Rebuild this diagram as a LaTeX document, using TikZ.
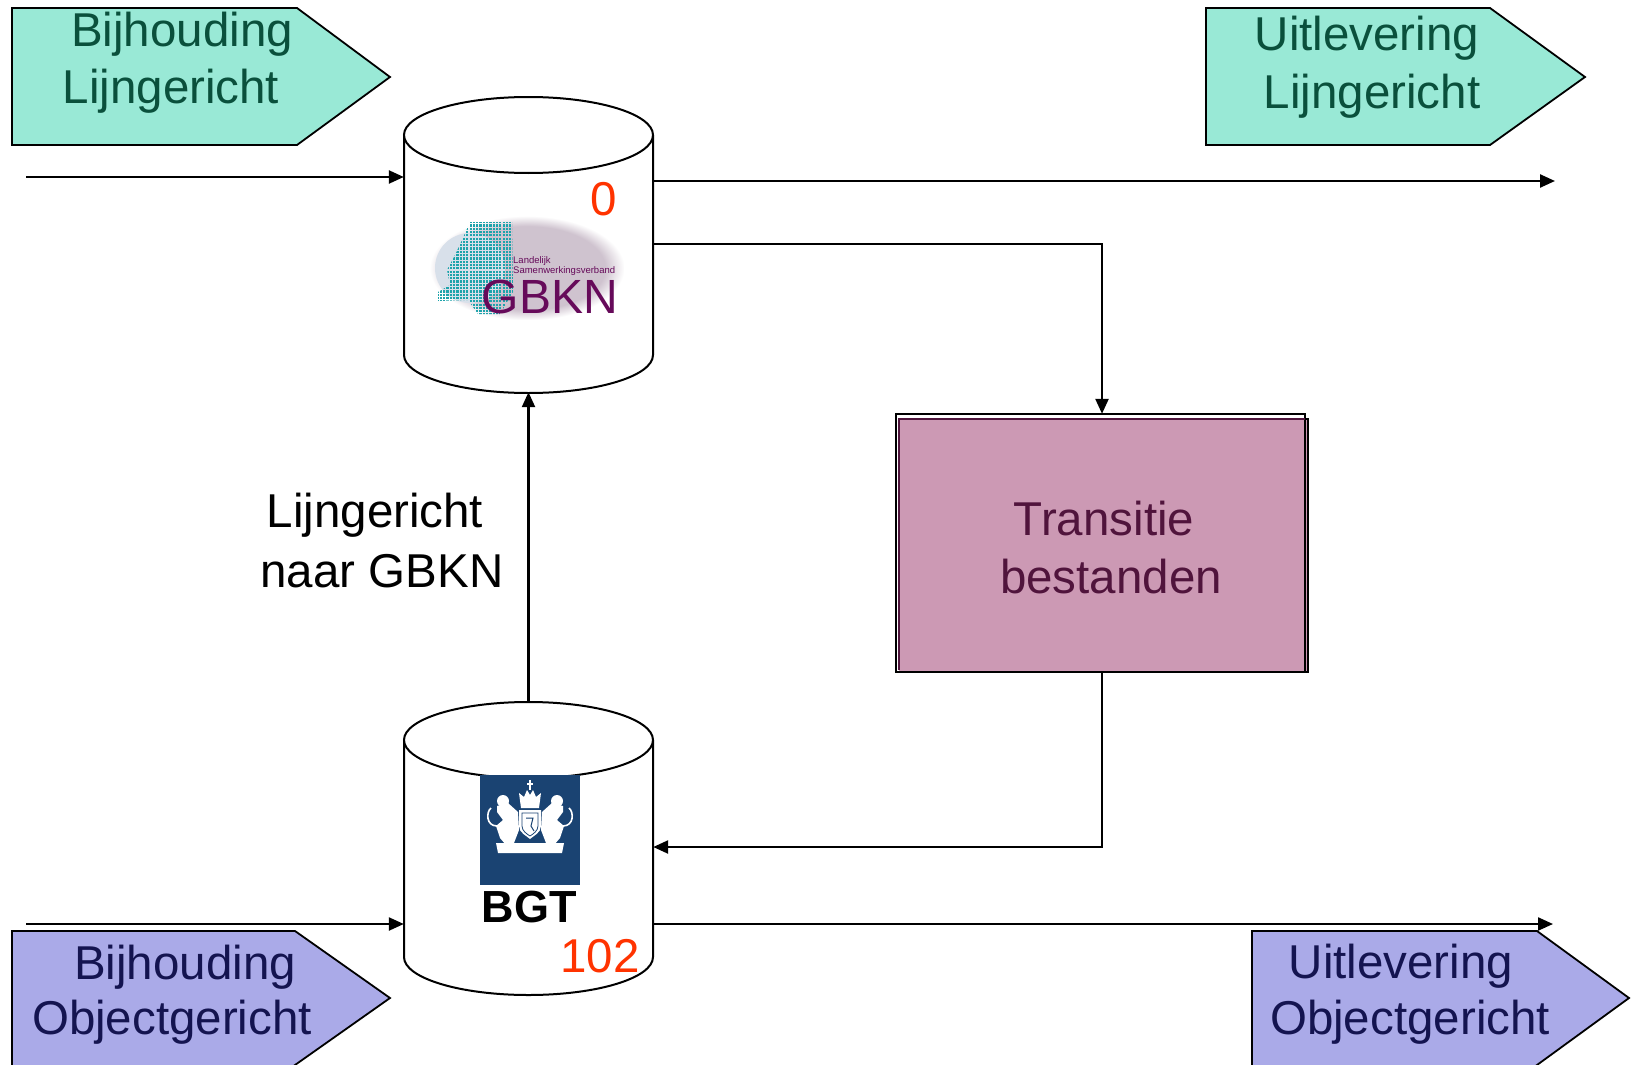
\documentclass[tikz,border=0pt]{standalone}
\usepackage{fontspec}
\setmainfont{Liberation Sans}
\usetikzlibrary{arrows.meta,fadings}
\definecolor{tealfill}{HTML}{99E9D6}
\definecolor{tealtext}{HTML}{0A503C}
\definecolor{lilacfill}{HTML}{AAAAE8}
\definecolor{navytext}{HTML}{141450}
\definecolor{numred}{HTML}{FF3300}
\definecolor{trfill}{HTML}{CC99B4}
\definecolor{trtext}{HTML}{50143C}
\definecolor{gbknpurple}{HTML}{660A5A}
\definecolor{mapteal}{HTML}{1EA3AB}
\definecolor{rijksblue}{HTML}{1A4372}
\definecolor{photogray}{HTML}{CFC3CF}
\definecolor{globe}{HTML}{D8E0EA}
\newcommand{\dbcyl}[3]{%
  \fill[white] ({#1-124.5},#2) -- ({#1-124.5},#3) .. controls ({#1-124.5},{#3+21}) and ({#1-68.8},{#3+38}) .. (#1,{#3+38}) .. controls ({#1+68.8},{#3+38}) and ({#1+124.5},{#3+21}) .. ({#1+124.5},#3) -- ({#1+124.5},#2) -- cycle;
  \draw[cylsty] ({#1-124.5},#2) -- ({#1-124.5},#3) .. controls ({#1-124.5},{#3+21}) and ({#1-68.8},{#3+38}) .. (#1,{#3+38}) .. controls ({#1+68.8},{#3+38}) and ({#1+124.5},{#3+21}) .. ({#1+124.5},#3) -- ({#1+124.5},#2);
  \filldraw[cylsty, fill=white] (#1,#2) ellipse [x radius=124.5, y radius=38];}
\begin{document}
\begin{tikzpicture}[x=1pt,y=-1pt,
  conn/.style={line width=2.4pt, -{Triangle[length=15pt,width=13pt]}},
  cylsty/.style={draw=black, line width=2pt},
  pent/.style={draw=black, line width=1.8pt},
  big/.style={font=\fontsize{47.5}{58}\selectfont, inner sep=0pt, anchor=base},
  hold/.style={draw=none, inner sep=0pt}]
\useasboundingbox (0,0) rectangle (1631,1065);

% ---------- signal shapes ----------
\filldraw[pent, fill=tealfill] (12,8) -- (297,8) -- (390,77) -- (297,145) -- (12,145) -- cycle;
\filldraw[pent, fill=tealfill] (1206,8) -- (1490,8) -- (1585,77) -- (1490,145) -- (1206,145) -- cycle;
\filldraw[pent, fill=lilacfill] (12,1072) -- (12,931) -- (295,931) -- (390,998) -- (295,1065) -- (285,1072);
\filldraw[pent, fill=lilacfill] (1252,1072) -- (1252,931) -- (1537,931) -- (1629,998) -- (1537,1065) -- (1527,1072);

\node[big, text=tealtext] (bl1) at (182,47) {Bijhouding};
\node[big, text=tealtext] (bl2) at (171,103) {Lijngericht};
\node[big, text=tealtext] (ul1) at (1367,51) {Uitlevering};
\node[big, text=tealtext] (ul2) at (1372,108) {Lijngericht};
\node[big, text=navytext] (bo1) at (185,979) {Bijhouding};
\node[big, text=navytext] (bo2) at (172,1034) {Objectgericht};
\node[big, text=navytext] (uo1) at (1401,978) {Uitlevering};
\node[big, text=navytext] (uo2) at (1410,1034) {Objectgericht};

% ---------- cylinders ----------
\node[hold, minimum width=249pt, minimum height=295pt] (gbkn) at (528.5,244.5) {};
\node[hold, minimum width=249pt, minimum height=293pt] (bgt) at (528.5,848.5) {};
\dbcyl{528.5}{135}{355}
\dbcyl{528.5}{740}{957}

% GBKN logo
\fill[photogray, path fading=circle with fuzzy edge 20 percent] (430,216) rectangle (624,320);
\fill[globe] (470,268) circle (35);
\begin{scope}
  \clip (470,222) -- (512,222) -- (513,292) -- (500,314) -- (478,314) -- (468,300) -- (438,301) -- (438,292) -- (450,285) -- (447,270) -- (455,255) -- (462,240) -- cycle;
  \foreach \i in {0,...,24} {
    \foreach \j in {0,...,28} {
      \fill[mapteal] ({436.5+3.3*\i},{221+3.3*\j}) rectangle ++(2.2,2.2);
    }
  }
\end{scope}
\node[inner sep=0pt, anchor=base west, text=gbknpurple, font=\fontsize{9.5}{10}\selectfont] (gl1) at (513,263) {Landelijk};
\node[inner sep=0pt, anchor=base west, text=gbknpurple, font=\fontsize{9.5}{10}\selectfont] (gl2) at (513,273) {Samenwerkingsverband};
\node[inner sep=0pt, anchor=base, text=gbknpurple, font=\fontsize{48}{50}\selectfont] (glogo) at (550,313) {GBKN};
\node[big, text=numred] (n0) at (604,215) {0};

% BGT logo
\fill[rijksblue] (480,775) rectangle (580,885);
\begin{scope}[white]
  % crown and cross
  \fill (521,808) -- (519,793) -- (524,797) -- (527,790) -- (530,795) -- (533,790) -- (536,797) -- (541,793) -- (539,808) -- cycle;
  \fill (529,780) rectangle (531,790);
  \fill (527,783) rectangle (533,785);
  % shield
  \fill (519,810) -- (541,810) -- (541,826) .. controls (541,833) and (533,836) .. (530,839) .. controls (527,836) and (519,833) .. (519,826) -- cycle;
  % left lion
  \fill (503,801) circle (6);
  \fill (497,806) -- (508,803) -- (518,812) -- (519,830) -- (514,843) -- (506,845) -- (500,838) -- (496,826) -- (503,820) -- (497,812) -- cycle;
  \draw[line width=1.6pt] (497,826) .. controls (486,826) and (486,812) .. (491,808);
  % right lion
  \fill (557,801) circle (6);
  \fill (563,806) -- (552,803) -- (542,812) -- (541,830) -- (546,843) -- (554,845) -- (560,838) -- (564,826) -- (557,820) -- (563,812) -- cycle;
  \draw[line width=1.6pt] (563,826) .. controls (574,826) and (574,812) .. (569,808);
  % ribbon
  \fill (496,843) -- (564,843) -- (562,853) -- (498,853) -- cycle;
\end{scope}
\draw[rijksblue, line width=0.8pt] (522,813) -- (538,813) -- (538,826) .. controls (538,831) and (533,834) .. (530,836) .. controls (527,834) and (522,831) .. (522,826) -- cycle;
\draw[rijksblue, line width=1pt] (526,818) -- (533,818) -- (531,826) -- (534,831);
\node[big, font=\fontsize{45}{50}\selectfont\bfseries] (bgtlbl) at (529,922) {BGT};
\node[big, text=numred] (n102) at (600,972) {102};

% ---------- Transitie box ----------
\node[hold, minimum width=412pt, minimum height=258pt] (tr) at (1102,543) {};
\fill[trfill] (899,419) rectangle (1308,672);
\draw[black, line width=2pt] (896,414) rectangle (1305,672);
\draw[trtext, line width=2pt] (1305,419) -- (899,419) -- (899,670);
\draw[black, line width=2pt] (1305,419) -- (1308,419) -- (1308,672) -- (1305,672);
\node[big, text=trtext] (trl1) at (1104,535) {Transitie};
\node[big, text=trtext] (trl2) at (1111,593) {bestanden};

% ---------- label ----------
\node[big, text=black] (lab1) at (375,527) {Lijngericht};
\node[big, text=black] (lab2) at (382,587) {naar GBKN};

% ---------- connectors ----------
\coordinate (inA) at (26,177);
\coordinate (outA) at (1555,181);
\coordinate (bendA) at (1102,244);
\coordinate (bendB) at (1102,847);
\coordinate (inB) at (26,924);
\coordinate (outB) at (1553,924);
\draw[conn] (inA) -- (inA -| gbkn.west);
\draw[conn] (outA -| gbkn.east) -- (outA);
\draw[conn] (bendA -| gbkn.east) -- (bendA) -- (tr.north);
\draw[conn] (tr.south) -- (bendB) -- (bendB -| bgt.east);
\draw[conn] (bgt.north) -- (gbkn.south);
\draw[conn] (inB) -- (inB -| bgt.west);
\draw[conn] (outB -| bgt.east) -- (outB);
\end{tikzpicture}
\end{document}
